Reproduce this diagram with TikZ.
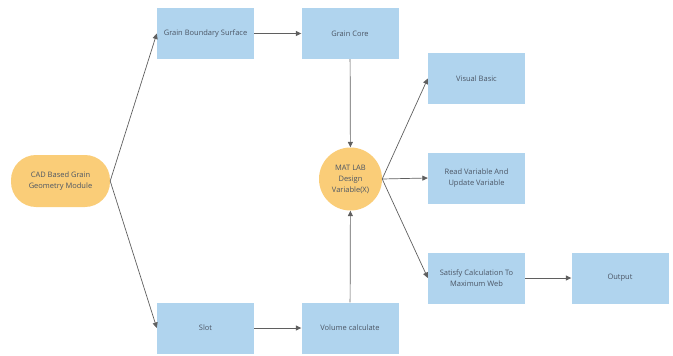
\documentclass[tikz,border=0pt]{standalone}
\usepackage{fontspec}
\setmainfont{Open Sans}
\usetikzlibrary{arrows.meta}
\definecolor{boxblue}{RGB}{176,212,238}
\definecolor{padorange}{RGB}{250,205,120}
\definecolor{txtgray}{RGB}{75,85,100}
\definecolor{linegray}{RGB}{95,95,95}
\tikzset{
	blk/.style={fill=boxblue, minimum width=97pt, minimum height=51pt, text=txtgray, align=center, inner sep=1pt},
	pill/.style={fill=padorange, rounded corners=25pt, minimum width=99pt, minimum height=52pt, text=txtgray, align=center, inner sep=1pt},
	hub/.style={circle, fill=padorange, minimum size=63pt, text=txtgray, align=center, inner sep=0pt},
	link/.style={draw=linegray, line width=.7pt, ->}
}
\begin{document}
\begin{tikzpicture}[x=1pt, y=-1pt, font=\fontsize{7.5}{11}\selectfont, line join=round, >={Triangle[length=5.5pt,width=5pt]}]
	\useasboundingbox (0,0) rectangle (673,356);
	\node[pill] (cad) at (60.5,181) {CAD Based Grain\\Geometry Module};
	\node[blk] (gbs) at (205.5,33.5) {Grain Boundary Surface};
	\node[blk] (core) at (350,33.5) {Grain Core};
	\node[blk] (slot) at (205.5,328) {Slot};
	\node[blk] (vol) at (350,328) {Volume calculate};
	\node[hub] (mat) at (350.5,179) {MAT LAB\\Design\\Variable(X)};
	\node[blk] (vb) at (476.5,78.5) {Visual Basic};
	\node[blk] (rv) at (476.5,178) {Read Variable And\\Update Variable};
	\node[blk] (sat) at (476.5,278) {Satisfy Calculation To\\Maximum Web};
	\node[blk] (out) at (620,278) {Output};
	% connectors
	\draw[link] (cad.east) -- (gbs.west);
	\draw[link] (cad.east) -- (slot.west);
	\draw[link] (gbs) -- (core);
	\draw[link] (slot) -- (vol);
	\draw[link] (core) -- (mat);
	\draw[link] (vol) -- (mat);
	\foreach \t in {vb, rv, sat}
	\draw[link] (mat.east) -- (\t.west);
	\draw[link] (sat) -- (out);
\end{tikzpicture}
\end{document}
